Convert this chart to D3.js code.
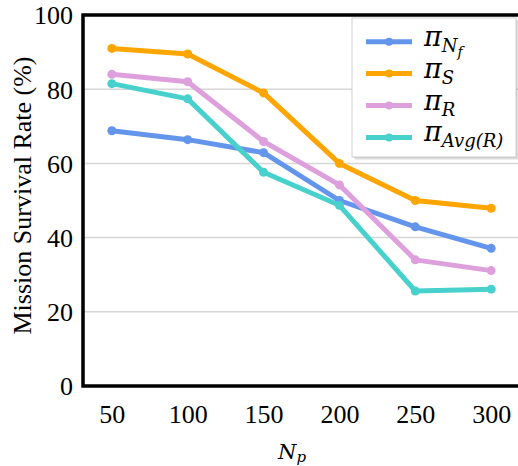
<!DOCTYPE html>
<html>
<head>
<meta charset="utf-8">
<script src="https://cdn.jsdelivr.net/npm/d3@7/dist/d3.min.js"></script>
<style>
  html, body { margin: 0; padding: 0; background: #fff; }
  svg { display: block; }
</style>
</head>
<body>
<svg id="chart" width="518" height="466" style="font-family: 'Liberation Serif'"></svg>
<script>
// Number of particles on the x axis
const categories = ["50", "100", "150", "200", "250", "300"];
// Mission survival rate (%) for each policy
const piNf  = [68.8, 66.4, 62.9, 50.0, 42.9, 37.1];
const piS   = [91.0, 89.5, 79.0, 60.0, 50.0, 47.9];
const piR   = [84.0, 82.0, 65.9, 54.2, 34.0, 31.1];
const piAvg = [81.5, 77.4, 57.6, 48.7, 25.6, 26.1];
const yTicks = [0, 20, 40, 60, 80, 100];

const series = [
  { name: ["π", "N", "f"], values: piNf,  color: "#6495ED" },
  { name: ["π", "S"],      values: piS,   color: "#FFA500" },
  { name: ["π", "R"],      values: piR,   color: "#DDA0DD" },
  { name: ["π", "Avg(R)"], values: piAvg, color: "#48D1CC" }
];

const svg = d3.select("#chart");
const mLeft = 83, mTop = 15, mBottom = 386, mRight = 520;

const x = d3.scalePoint().domain(categories).range([mLeft, mRight]).padding(0.38);
const y = d3.scaleLinear().domain([0, 100]).range([mBottom, mTop]);

const serifFont = "Liberation Serif";
const mathFont = "DejaVu Serif";

// horizontal grid lines
svg.append("g").selectAll("line")
  .data(yTicks.filter(t => t > 0 && t < 100))
  .join("line")
  .attr("x1", mLeft).attr("x2", 518)
  .attr("y1", d => y(d)).attr("y2", d => y(d))
  .attr("stroke", "#d6d6d6").attr("stroke-width", 1.5);

// y axis tick labels
const yAxis = d3.axisLeft(y).tickValues(yTicks).tickSize(0).tickPadding(10);
svg.append("g").attr("transform", `translate(${mLeft},0)`).call(yAxis)
  .attr("font-family", null).attr("font-size", 26)
  .call(g => g.select(".domain").remove())
  .call(g => g.selectAll("text")
    .style("font-family", serifFont).attr("fill", "#000")
    .attr("dy", "0.34em"));

// x axis tick labels
const xAxis = d3.axisBottom(x).tickSize(0).tickPadding(19);
svg.append("g").attr("transform", `translate(0,${mBottom})`).call(xAxis)
  .attr("font-family", null).attr("font-size", 26)
  .call(g => g.select(".domain").remove())
  .call(g => g.selectAll("text")
    .style("font-family", serifFont).attr("fill", "#000"));

// series lines and markers
const lineGen = d3.line().x((d, i) => x(categories[i])).y(d => y(d));
series.forEach(s => {
  const g = svg.append("g");
  g.append("path").datum(s.values)
    .attr("d", lineGen).attr("fill", "none")
    .attr("stroke", s.color).attr("stroke-width", 5)
    .attr("stroke-linejoin", "round").attr("stroke-linecap", "round");
  g.selectAll("circle").data(s.values).join("circle")
    .attr("cx", (d, i) => x(categories[i])).attr("cy", d => y(d))
    .attr("r", 4.5).attr("fill", s.color);
});

// plot frame (left, top, bottom)
svg.append("path")
  .attr("d", `M520,${mTop}H${mLeft}V${mBottom}H520`)
  .attr("fill", "none").attr("stroke", "#000").attr("stroke-width", 3.5);

// y axis title
svg.append("text")
  .attr("transform", `translate(31,${(mTop + mBottom) / 2 - 5}) rotate(-90)`)
  .attr("text-anchor", "middle")
  .style("font-family", serifFont).attr("font-size", 26)
  .text("Mission Survival Rate (%)");

// x axis title N_p
const xt = svg.append("text")
  .attr("x", 292).attr("y", 459).attr("text-anchor", "middle")
  .style("font-family", mathFont).style("font-style", "italic").attr("font-size", 21);
xt.append("tspan").text("N");
xt.append("tspan").attr("font-size", 15).attr("dy", 3).text("p");

// legend box with a soft drop shadow
const lg = svg.append("g");
const lx = 352, ly = 18, lw = 164, lh = 139;
[3, 2, 1].forEach(o => {
  lg.append("rect").attr("x", lx + o).attr("y", ly + o).attr("width", lw).attr("height", lh)
    .attr("fill", "#000").attr("opacity", 0.07);
});
lg.append("rect").attr("x", lx).attr("y", ly).attr("width", lw).attr("height", lh)
  .attr("fill", "#fff").attr("stroke", "#cfcfcf").attr("stroke-width", 1);

series.forEach((s, i) => {
  const ry = 41.7 + i * 31.9;
  lg.append("line").attr("x1", 366).attr("x2", 412).attr("y1", ry).attr("y2", ry)
    .attr("stroke", s.color).attr("stroke-width", 5);
  lg.append("circle").attr("cx", 389).attr("cy", ry).attr("r", 4).attr("fill", s.color);
  const t = lg.append("text").attr("x", 424).attr("y", ry + 4)
    .style("font-family", mathFont).style("font-style", "italic").attr("fill", "#000");
  t.append("tspan").attr("font-size", 27).text(s.name[0]);
  t.append("tspan").attr("font-size", 18).attr("dy", 6).text(s.name[1]);
  if (s.name[2]) t.append("tspan").attr("font-size", 14).attr("dy", 5).text(s.name[2]);
});
</script>
</body>
</html>
